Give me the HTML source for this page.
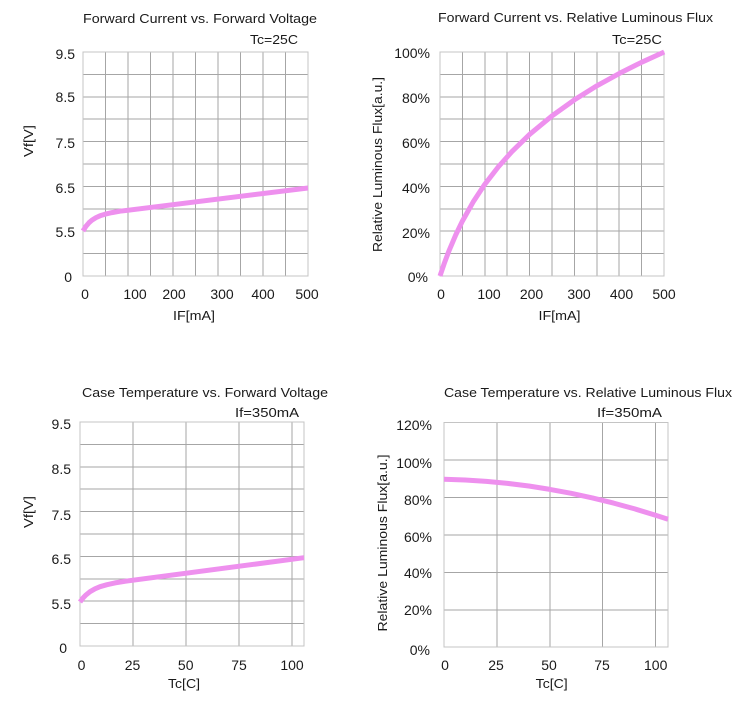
<!DOCTYPE html>
<html><head><meta charset="utf-8"><style>
html,body{margin:0;padding:0;background:#fff;}
svg{display:block;}
text{font-family:"Liberation Sans",sans-serif;fill:#1a1a1a;}
.t{font-size:13px;}
.k{font-size:14px;}
.g line{stroke:#a6a6a6;stroke-width:1;shape-rendering:crispEdges;}
.b{fill:none;stroke:#c4c4c4;stroke-width:1.2;shape-rendering:crispEdges;}
.c{fill:none;stroke:#ee90ee;stroke-width:5;stroke-linejoin:round;stroke-linecap:butt;}
</style></head><body>
<svg width="743" height="712" viewBox="0 0 743 712" xmlns="http://www.w3.org/2000/svg">
<!-- Chart 1 -->
<g class="g">
<line x1="105.5" y1="52" x2="105.5" y2="276"/><line x1="128" y1="52" x2="128" y2="276"/><line x1="150.5" y1="52" x2="150.5" y2="276"/><line x1="173" y1="52" x2="173" y2="276"/><line x1="195.5" y1="52" x2="195.5" y2="276"/><line x1="218" y1="52" x2="218" y2="276"/><line x1="240.5" y1="52" x2="240.5" y2="276"/><line x1="263" y1="52" x2="263" y2="276"/><line x1="285.5" y1="52" x2="285.5" y2="276"/>
<line x1="83" y1="74.4" x2="308" y2="74.4"/><line x1="83" y1="96.8" x2="308" y2="96.8"/><line x1="83" y1="119.2" x2="308" y2="119.2"/><line x1="83" y1="141.6" x2="308" y2="141.6"/><line x1="83" y1="164" x2="308" y2="164"/><line x1="83" y1="186.4" x2="308" y2="186.4"/><line x1="83" y1="208.8" x2="308" y2="208.8"/><line x1="83" y1="231.2" x2="308" y2="231.2"/><line x1="83" y1="253.6" x2="308" y2="253.6"/>
</g>
<rect class="b" x="83" y="52" width="225" height="224"/>
<polyline class="c" points="83,231 86,226.2 89,222.7 92,220.1 96,217.6 100,215.8 105,214.2 112,212.6 120,211.2 308,188"/>
<text class="t" x="200" y="23" text-anchor="middle" textLength="234" lengthAdjust="spacingAndGlyphs">Forward Current vs. Forward Voltage</text>
<text class="t" x="274" y="44" text-anchor="middle" textLength="48" lengthAdjust="spacingAndGlyphs">Tc=25C</text>
<g class="k" text-anchor="end">
<text x="75" y="59">9.5</text><text x="75" y="102">8.5</text><text x="75" y="148">7.5</text><text x="75" y="193">6.5</text><text x="75" y="237">5.5</text><text x="72" y="282">0</text>
</g>
<g class="k" text-anchor="middle">
<text x="85" y="299">0</text><text x="135" y="299">100</text><text x="174" y="299">200</text><text x="222" y="299">300</text><text x="263" y="299">400</text><text x="307" y="299">500</text>
</g>
<text class="t" x="194" y="320" text-anchor="middle" textLength="42" lengthAdjust="spacingAndGlyphs">IF[mA]</text>
<text class="t" transform="translate(33,141) rotate(-90)" text-anchor="middle" textLength="32" lengthAdjust="spacingAndGlyphs">Vf[V]</text>

<!-- Chart 2 -->
<g class="g">
<line x1="462.4" y1="52" x2="462.4" y2="276"/><line x1="484.8" y1="52" x2="484.8" y2="276"/><line x1="507.2" y1="52" x2="507.2" y2="276"/><line x1="529.6" y1="52" x2="529.6" y2="276"/><line x1="552" y1="52" x2="552" y2="276"/><line x1="574.4" y1="52" x2="574.4" y2="276"/><line x1="596.8" y1="52" x2="596.8" y2="276"/><line x1="619.2" y1="52" x2="619.2" y2="276"/><line x1="641.6" y1="52" x2="641.6" y2="276"/>
<line x1="440" y1="74.4" x2="664" y2="74.4"/><line x1="440" y1="96.8" x2="664" y2="96.8"/><line x1="440" y1="119.2" x2="664" y2="119.2"/><line x1="440" y1="141.6" x2="664" y2="141.6"/><line x1="440" y1="164" x2="664" y2="164"/><line x1="440" y1="186.4" x2="664" y2="186.4"/><line x1="440" y1="208.8" x2="664" y2="208.8"/><line x1="440" y1="231.2" x2="664" y2="231.2"/><line x1="440" y1="253.6" x2="664" y2="253.6"/>
</g>
<rect class="b" x="440" y="52" width="224" height="224"/>
<polyline class="c" points="440,276 444.5,262.7 449,250.8 455.7,235 462.4,221.1 473.6,201.2 484.8,184.3 498.3,166.9 511.7,151.8 529.7,134.3 552.1,115.8 574.5,99.8 596.9,85.8 619.4,73.4 641.8,62.2 664.2,52"/>
<text class="t" x="575.5" y="22" text-anchor="middle" textLength="275" lengthAdjust="spacingAndGlyphs">Forward Current vs. Relative Luminous Flux</text>
<text class="t" x="637" y="44" text-anchor="middle" textLength="50" lengthAdjust="spacingAndGlyphs">Tc=25C</text>
<g class="k" text-anchor="end">
<text x="430" y="58">100%</text><text x="430" y="103">80%</text><text x="430" y="148">60%</text><text x="430" y="193">40%</text><text x="430" y="238">20%</text><text x="428" y="282">0%</text>
</g>
<g class="k" text-anchor="middle">
<text x="441" y="299">0</text><text x="489" y="299">100</text><text x="531.5" y="299">200</text><text x="579" y="299">300</text><text x="621.5" y="299">400</text><text x="664" y="299">500</text>
</g>
<text class="t" x="559.5" y="320" text-anchor="middle" textLength="42" lengthAdjust="spacingAndGlyphs">IF[mA]</text>
<text class="t" transform="translate(382,164.5) rotate(-90)" text-anchor="middle" textLength="175" lengthAdjust="spacingAndGlyphs">Relative Luminous Flux[a.u.]</text>

<!-- Chart 3 -->
<g class="g">
<line x1="133" y1="422" x2="133" y2="646"/><line x1="186" y1="422" x2="186" y2="646"/><line x1="239" y1="422" x2="239" y2="646"/><line x1="292" y1="422" x2="292" y2="646"/>
<line x1="80" y1="444.4" x2="304" y2="444.4"/><line x1="80" y1="466.8" x2="304" y2="466.8"/><line x1="80" y1="489.2" x2="304" y2="489.2"/><line x1="80" y1="511.6" x2="304" y2="511.6"/><line x1="80" y1="534" x2="304" y2="534"/><line x1="80" y1="556.4" x2="304" y2="556.4"/><line x1="80" y1="578.8" x2="304" y2="578.8"/><line x1="80" y1="601.2" x2="304" y2="601.2"/><line x1="80" y1="623.6" x2="304" y2="623.6"/>
</g>
<rect class="b" x="80" y="422" width="224" height="224"/>
<polyline class="c" points="80,602 83,598 86,594.9 90,591.7 95,588.8 100,586.7 107,584.7 115,582.9 125,581.3 304,557.7"/>
<text class="t" x="205" y="397" text-anchor="middle" textLength="246" lengthAdjust="spacingAndGlyphs">Case Temperature vs. Forward Voltage</text>
<text class="t" x="267" y="417" text-anchor="middle" textLength="64" lengthAdjust="spacingAndGlyphs">If=350mA</text>
<g class="k" text-anchor="end">
<text x="71" y="429">9.5</text><text x="71" y="474">8.5</text><text x="71" y="520">7.5</text><text x="71" y="564">6.5</text><text x="71" y="609">5.5</text><text x="67" y="653">0</text>
</g>
<g class="k" text-anchor="middle">
<text x="81.5" y="670">0</text><text x="132.5" y="670">25</text><text x="185.7" y="670">50</text><text x="239" y="670">75</text><text x="292" y="670">100</text>
</g>
<text class="t" x="184" y="688" text-anchor="middle" textLength="32" lengthAdjust="spacingAndGlyphs">Tc[C]</text>
<text class="t" transform="translate(33,512) rotate(-90)" text-anchor="middle" textLength="32" lengthAdjust="spacingAndGlyphs">Vf[V]</text>

<!-- Chart 4 -->
<g class="g">
<line x1="497" y1="422.5" x2="497" y2="647"/><line x1="550" y1="422.5" x2="550" y2="647"/><line x1="602.5" y1="422.5" x2="602.5" y2="647"/><line x1="655.5" y1="422.5" x2="655.5" y2="647"/>
<line x1="444" y1="460" x2="668" y2="460"/><line x1="444" y1="497.5" x2="668" y2="497.5"/><line x1="444" y1="535" x2="668" y2="535"/><line x1="444" y1="572.5" x2="668" y2="572.5"/><line x1="444" y1="610" x2="668" y2="610"/>
</g>
<rect class="b" x="444" y="422.5" width="224" height="224.5"/>
<polyline class="c" points="444,479.3 465.2,480 486.4,481.4 507.6,483.4 528.8,486 550,489.4 571.2,493.3 592.4,497.9 613.6,503.1 634.8,508.9 656,515.4 668,519.3"/>
<text class="t" x="588" y="397" text-anchor="middle" textLength="288" lengthAdjust="spacingAndGlyphs">Case Temperature vs. Relative Luminous Flux</text>
<text class="t" x="629.5" y="417" text-anchor="middle" textLength="65" lengthAdjust="spacingAndGlyphs">If=350mA</text>
<g class="k" text-anchor="end">
<text x="432" y="430">120%</text><text x="432" y="468">100%</text><text x="432" y="505">80%</text><text x="432" y="542">60%</text><text x="432" y="578">40%</text><text x="432" y="615">20%</text><text x="430" y="655">0%</text>
</g>
<g class="k" text-anchor="middle">
<text x="445" y="670">0</text><text x="496" y="670">25</text><text x="549" y="670">50</text><text x="602" y="670">75</text><text x="655.7" y="670">100</text>
</g>
<text class="t" x="551.7" y="688" text-anchor="middle" textLength="32" lengthAdjust="spacingAndGlyphs">Tc[C]</text>
<text class="t" transform="translate(387,543) rotate(-90)" text-anchor="middle" textLength="177" lengthAdjust="spacingAndGlyphs">Relative Luminous Flux[a.u.]</text>
</svg>
</body></html>
